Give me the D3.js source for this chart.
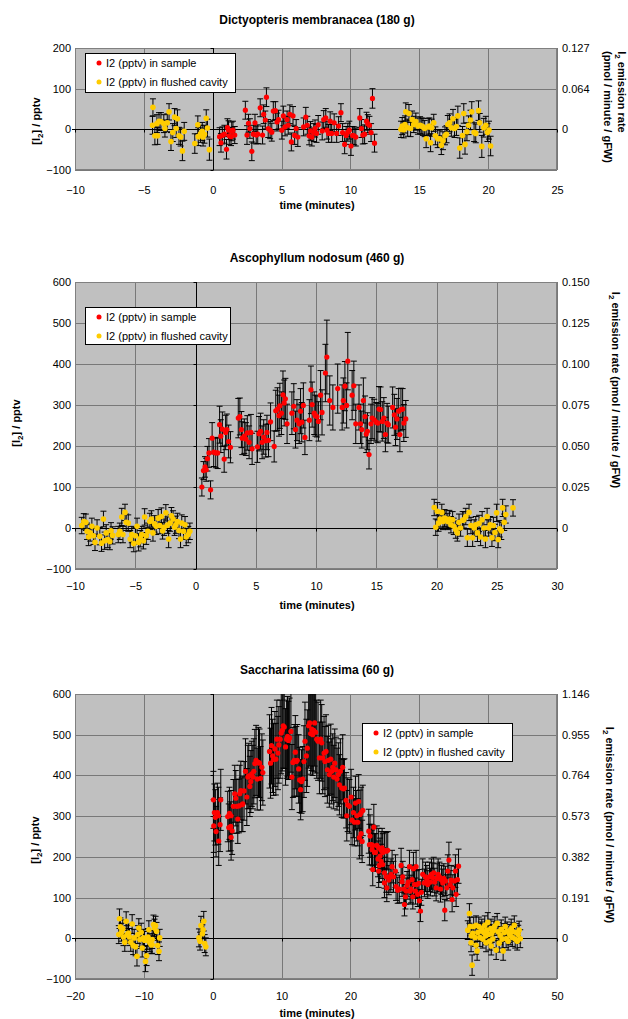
<!DOCTYPE html>
<html>
<head>
<meta charset="utf-8">
<script src="https://cdn.jsdelivr.net/npm/d3@7"></script>
<style>
  body { margin: 0; background: #fff; }
  text { font-family: "Liberation Sans", Arial, sans-serif; fill: #000; }
</style>
</head>
<body>
<svg id="chart" width="628" height="1019"></svg>
<script>
// ---- data: [time (min), I2 (pptv), error (pptv)] ----

const legendLabels = ["I2 (pptv) in sample", "I2 (pptv) in flushed cavity"];

// Dictyopteris membranacea
const dictTitle = "Dictyopteris membranacea (180 g)";
const dictXTicks = [-10, -5, 0, 5, 10, 15, 20, 25];
const dictYTicks = [-100, 0, 100, 200];
const dictRightAt = [0, 100, 200];
const dictRightLabels = ["0", "0.064", "0.127"];
const dictSample = [
  [0.5,-18,22],[0.6,-33,23],[0.7,-15,21],[0.85,-12,22],[1.0,-49,24],[1.07,4,22],[1.15,-2,23],[1.2,-16,21],
  [1.33,-18,22],[1.38,-5,23],[1.47,-2,22],[1.6,-14,21],[2.37,47,22],[2.49,-14,23],[2.6,15,22],[2.7,2,24],
  [2.84,-54,23],[2.95,-12,22],[3.07,16,21],[3.16,-14,22],[3.27,-12,23],[3.45,53,22],[3.62,-14,22],[3.7,37,23],
  [3.82,23,22],[3.9,79,23],[4.03,2,22],[4.17,-2,21],[4.29,-7,22],[4.4,45,23],[4.55,46,22],[4.67,18,22],
  [4.78,24,23],[5.02,-2,22],[5.13,33,24],[5.25,6,22],[5.4,24,21],[5.48,10,22],[5.6,37,23],[5.71,-31,22],
  [5.83,33,23],[5.95,-15,22],[6.06,2,22],[6.18,-19,23],[6.6,6,22],[6.76,30,24],[6.87,10,22],[7.0,-16,22],
  [7.1,-4,23],[7.2,-19,22],[7.34,-8,22],[7.43,2,21],[7.54,-10,22],[7.66,11,23],[7.95,-4,22],[8.06,24,22],
  [8.21,28,23],[8.3,-2,22],[8.41,-10,22],[8.53,20,23],[8.64,-10,22],[8.82,16,22],[9.0,-10,22],[9.14,8,23],
  [9.31,41,22],[9.43,-8,22],[9.58,-37,23],[9.69,-15,22],[9.81,-7,22],[9.92,-2,22],[10.04,-41,23],[10.16,-15,22],
  [10.27,-16,22],[10.39,-19,22],[10.68,28,23],[10.8,2,22],[10.9,-14,22],[11.03,-12,23],[11.17,20,22],[11.26,14,22],
  [11.38,10,22],[11.5,-8,22],[11.6,76,24],[11.75,-34,22]
];
const dictFlushed = [
  [-4.37,10,22],[-4.34,54,21],[-4.2,-16,22],[-4.0,-16,21],[-4.05,14,22],[-3.9,20,21],[-3.76,19,22],[-3.55,14,22],
  [-3.47,2,21],[-3.3,16,22],[-3.17,43,20],[-3.03,-30,22],[-2.9,-8,22],[-2.77,30,21],[-2.65,2,22],[-2.56,26,22],
  [-2.45,-16,21],[-2.33,-19,22],[-2.2,-53,24],[-2.07,-5,22],[-1.3,-35,24],[-1.08,11,22],[-1.05,-18,22],[-0.88,-11,21],
  [-0.76,-5,22],[-0.7,-19,22],[-0.6,-12,22],[-0.47,27,21],[-0.38,3,22],[-0.24,-50,26],
  [13.67,0,20],[13.76,8,21],[13.87,-1,20],[13.96,12,21],[14.02,43,22],[14.16,4,21],[14.25,39,22],[14.37,2,20],
  [14.48,24,21],[14.6,12,20],[14.75,19,21],[14.9,8,20],[15.06,10,21],[15.18,8,20],[15.27,6,21],[15.39,2,20],
  [15.5,-23,22],[15.65,6,21],[15.73,8,20],[15.82,-33,22],[15.9,4,21],[16.05,16,21],[16.17,-16,22],[16.34,-23,22],
  [16.49,-23,21],[16.6,-39,23],[16.72,-28,22],[16.87,-16,22],[16.98,-12,21],[17.07,12,22],[17.2,16,22],[17.33,4,21],
  [17.45,26,23],[17.56,2,22],[17.7,7,22],[17.8,33,24],[17.94,-46,25],[18.14,-15,22],[18.23,39,24],[18.32,-37,24],
  [18.46,-6,22],[18.58,10,23],[18.72,23,24],[18.81,43,25],[18.98,-7,23],[19.1,-10,23],[19.3,46,24],[19.39,16,23],
  [19.54,-42,27],[19.68,4,23],[19.83,10,22],[19.95,-8,22],[20.06,-2,22],[20.18,-41,24]
];

// Ascophyllum nodosum
const ascoTitle = "Ascophyllum nodosum (460 g)";
const ascoXTicks = [-10, -5, 0, 5, 10, 15, 20, 25, 30];
const ascoYTicks = [-100, 0, 100, 200, 300, 400, 500, 600];
const ascoRightAt = [0, 100, 200, 300, 400, 500, 600];
const ascoRightLabels = ["0", "0.025", "0.050", "0.075", "0.100", "0.125", "0.150"];
const ascoSample = [
  [0.53,100,22],[0.66,140,22],[0.79,149,25],[0.89,142,28],[0.99,169,30],[1.12,183,35],[1.25,93,22],[1.38,219,38],
  [1.51,185,35],[1.68,183,36],[1.84,183,38],[2.0,252,45],[2.1,224,40],[2.23,241,42],[2.38,168,32],[2.5,233,42],
  [2.6,240,38],[2.75,211,40],[2.9,197,38],[3.55,268,48],[3.68,272,45],[3.81,240,44],[3.88,219,40],[4.05,224,42],
  [4.18,217,40],[4.3,232,42],[4.45,209,40],[4.6,233,44],[4.7,193,38],[5.14,198,38],[5.27,230,42],[5.4,236,44],
  [5.53,209,40],[5.66,222,42],[5.83,213,40],[5.93,233,42],[6.06,214,40],[6.23,259,46],[6.53,199,38],[6.66,286,50],
  [6.8,290,52],[6.93,274,50],[7.0,298,55],[7.13,280,52],[7.26,325,58],[7.36,305,56],[7.46,315,50],[7.6,254,48],
  [8.0,280,52],[8.16,297,55],[8.3,240,45],[8.42,263,50],[8.6,254,48],[8.72,285,55],[8.82,258,48],[8.95,299,55],
  [9.08,221,42],[9.45,263,50],[9.58,337,58],[9.68,301,55],[9.85,280,52],[9.95,274,50],[10.08,272,50],[10.2,260,48],
  [10.38,324,60],[10.5,282,55],[10.78,378,70],[10.9,417,90],[11.14,311,60],[11.4,294,55],[11.8,340,60],[12.17,294,55],
  [12.27,311,55],[12.4,346,60],[12.54,299,55],[12.64,407,70],[13.0,324,60],[13.14,347,60],[13.3,254,48],[13.57,294,55],
  [13.7,254,48],[13.8,240,45],[13.93,311,55],[14.07,272,50],[14.17,229,45],[14.27,236,45],[14.4,179,35],[14.56,254,48],
  [14.66,268,50],[14.83,264,50],[15.0,258,48],[15.13,256,48],[15.23,290,55],[15.36,289,55],[15.5,260,48],[15.63,268,50],
  [15.76,228,42],[15.9,256,48],[16.0,252,45],[16.36,294,50],[16.5,276,50],[16.6,246,45],[16.72,266,50],[16.86,285,55],
  [16.96,228,42],[17.05,289,52],[17.19,290,50],[17.29,256,45],[17.45,266,45]
];
const ascoFlushed = [
  [-9.44,6,20],[-9.27,16,19],[-9.1,14,20],[-9.0,-8,20],[-8.87,-22,21],[-8.74,-12,20],[-8.6,4,20],[-8.47,-19,21],
  [-8.34,-35,20],[-8.17,0,20],[-7.94,-20,21],[-7.8,-37,20],[-7.64,22,19],[-7.54,-31,21],[-7.41,-12,20],[-7.28,-28,20],
  [-7.11,-33,20],[-7.01,-7,20],[-6.88,-18,21],[-6.41,-16,20],[-6.28,-8,20],[-6.12,27,21],[-6.02,-16,20],[-5.85,38,20],
  [-5.75,14,20],[-5.58,12,20],[-5.42,-27,21],[-5.29,-16,20],[-5.12,-38,20],[-4.99,-19,20],[-4.85,4,20],[-4.72,-35,21],
  [-4.59,-26,20],[-4.46,-16,20],[-4.32,-31,20],[-4.22,27,20],[-4.09,-19,21],[-3.96,-8,20],[-3.79,16,20],[-3.66,22,20],
  [-3.53,-12,20],[-3.39,10,20],[-3.26,4,20],[-3.1,24,21],[-2.96,6,20],[-2.83,28,21],[-2.73,-7,20],[-2.6,2,20],
  [-2.46,37,20],[-2.33,7,20],[-2.23,-27,21],[-2.1,12,20],[-2.0,30,20],[-1.86,22,20],[-1.73,2,20],[-1.63,8,21],
  [-1.5,16,20],[-1.37,-6,20],[-1.24,-27,21],[-1.14,12,20],[-1.0,-8,20],[-0.87,8,20],[-0.77,-22,21],[-0.6,-16,20],
  [-0.47,-8,20],
  [19.81,50,20],[19.94,2,20],[20.07,41,21],[20.17,12,20],[20.3,22,20],[20.44,38,20],[20.54,16,20],[20.67,24,21],
  [20.8,22,20],[20.94,16,20],[21.07,22,21],[21.2,8,20],[21.34,20,20],[21.43,4,20],[21.6,-4,21],[21.73,-12,20],
  [21.87,14,20],[22.0,0,20],[22.17,19,21],[22.27,20,20],[22.43,28,20],[22.56,-24,21],[22.7,38,20],[22.86,6,20],
  [23.0,-24,21],[23.13,0,20],[23.26,8,20],[23.4,-12,21],[23.53,11,20],[23.66,-22,21],[23.79,20,20],[23.93,0,20],
  [24.06,-27,21],[24.2,28,20],[24.33,0,20],[24.46,8,20],[24.6,-24,21],[24.72,6,20],[24.85,-11,20],[24.99,37,21],
  [25.12,-28,20],[25.25,-2,20],[25.38,-7,21],[25.49,49,21],[25.62,14,20],[25.75,33,21],[26.35,49,20]
];

// Saccharina latissima
const saccTitle = "Saccharina latissima (60 g)";
const saccXTicks = [-20, -10, 0, 10, 20, 30, 40, 50];
const saccYTicks = [-100, 0, 100, 200, 300, 400, 500, 600];
const saccRightAt = [0, 100, 200, 300, 400, 500, 600];
const saccRightLabels = ["0", "0.191", "0.382", "0.573", "0.764", "0.955", "1.146"];
const saccSample = [
  [0.1,340,70],[0.15,276,65],[0.24,309,70],[0.39,297,68],[0.49,262,62],[0.68,309,72],[0.83,301,70],[0.87,239,60],
  [1.07,279,66],[1.17,340,75],[2.18,299,62],[2.33,272,58],[2.43,307,64],[2.62,275,60],[2.67,248,56],[2.67,301,62],
  [2.82,264,58],[3.0,324,66],[3.2,355,70],[3.35,344,68],[3.5,324,66],[3.64,293,60],[3.8,325,66],[3.93,355,70],
  [4.08,363,72],[4.22,328,66],[4.37,330,68],[4.56,362,72],[4.76,410,80],[4.95,347,70],[5.1,396,78],[5.24,399,80],
  [5.39,373,74],[5.53,385,76],[5.68,404,80],[5.83,396,78],[5.97,410,80],[6.12,429,84],[6.3,437,86],[6.46,391,76],
  [6.65,432,86],[6.8,430,84],[6.94,393,78],[7.14,420,82],[7.28,407,80],[8.25,459,90],[8.4,430,86],[8.54,473,94],
  [8.7,448,90],[8.83,439,88],[9.03,465,92],[9.17,440,88],[9.32,489,96],[9.47,455,90],[9.6,475,94],[9.8,489,96],
  [9.95,504,100],[10.1,511,100],[10.24,522,104],[10.39,519,102],[10.58,470,94],[10.73,489,96],[10.87,496,98],[11.0,486,96],
  [11.17,492,98],[11.36,508,100],[11.5,396,80],[11.65,432,86],[11.84,437,88],[12.0,457,90],[12.14,434,86],[12.28,437,88],
  [12.48,416,84],[12.62,389,80],[12.77,365,74],[12.9,385,78],[13.06,391,80],[13.25,434,88],[13.4,484,96],[13.6,448,90],
  [13.74,467,94],[13.93,522,104],[14.08,529,106],[14.22,503,100],[14.37,514,102],[14.51,500,100],[14.66,511,102],[14.8,529,106],
  [14.95,506,100],[15.1,489,96],[15.3,484,96],[15.5,443,88],[15.68,489,96],[15.83,480,94],[15.97,443,88],[16.17,455,90],
  [16.3,434,86],[16.46,459,90],[16.65,414,82],[16.8,437,86],[16.94,402,80],[17.14,440,86],[17.28,410,80],[17.43,420,82],
  [17.57,396,78],[17.72,430,84],[17.9,414,80],[18.06,391,76],[18.25,402,78],[18.4,377,74],[18.54,410,80],[18.74,369,72],
  [18.88,420,80],[19.0,367,72],[19.13,369,72],[19.37,339,68],[19.47,301,62],[19.6,328,66],[19.85,324,66],[20.1,347,68],
  [20.24,290,60],[20.44,309,62],[20.58,285,58],[20.73,332,66],[20.92,301,62],[21.07,285,58],[21.2,336,66],[21.3,247,52],
  [21.4,304,60],[21.55,309,62],[21.55,257,54],[21.7,238,52],[21.8,314,62],[22.66,263,54],[22.76,230,50],[22.85,251,52],
  [23.05,230,50],[23.15,218,48],[23.24,228,50],[23.24,169,40],[23.4,273,56],[23.5,211,46],[23.63,211,46],[23.83,228,48],
  [24.0,195,44],[24.1,222,48],[24.1,165,40],[24.2,179,42],[24.3,202,44],[24.45,216,46],[24.45,189,42],[24.6,222,48],
  [24.7,211,46],[24.7,181,42],[24.94,216,46],[24.94,161,38],[24.94,136,36],[25.2,214,46],[25.2,151,38],[25.28,124,34],
  [25.42,216,46],[25.57,143,36],[25.76,151,38],[25.9,157,38],[26.05,176,40],[26.25,151,38],[26.54,165,40],[26.63,127,34],
  [26.87,118,32],[27.1,121,34],[27.36,179,42],[27.5,139,36],[27.6,151,38],[27.75,121,34],[27.85,83,28],[28.0,102,30],
  [28.1,116,32],[28.23,130,34],[28.38,138,36],[28.57,176,40],[28.67,116,32],[28.8,121,34],[28.96,144,36],[29.06,102,30],
  [29.15,171,40],[29.3,132,34],[29.44,116,32],[29.54,176,40],[29.64,132,34],[29.78,108,30],[29.93,135,34],[30.02,92,28],
  [30.17,67,26],[30.3,113,32],[30.5,157,38],[30.75,136,34],[30.9,151,36],[31.1,143,36],[31.23,132,34],[31.48,151,36],
  [31.62,138,34],[31.77,157,38],[31.96,149,36],[32.1,161,38],[32.25,138,34],[32.45,124,32],[32.6,147,36],[32.74,157,38],
  [32.93,151,36],[33.08,121,32],[33.22,143,36],[33.41,136,34],[33.56,147,36],[33.7,69,26],[33.8,141,36],[34.0,124,32],
  [34.14,165,40],[34.3,192,44],[34.48,132,34],[34.62,143,36],[34.77,95,30],[34.87,124,32],[35.1,141,36],[35.25,165,40],
  [35.35,108,30],[35.54,144,36],[35.7,177,42]
];
const saccFlushed = [
  [-13.64,9,22],[-13.54,48,24],[-13.4,28,22],[-13.25,15,22],[-13.06,23,22],[-12.96,3,21],[-12.77,-10,22],[-12.57,42,23],
  [-12.43,9,22],[-12.23,13,22],[-12.09,3,21],[-11.9,-10,22],[-11.7,35,23],[-11.55,-18,22],[-11.4,1,21],[-11.2,-21,22],
  [-11.0,-44,24],[-10.87,9,22],[-10.73,25,23],[-10.58,-3,22],[-10.39,15,22],[-10.24,-24,22],[-10.05,1,21],[-9.9,-5,22],
  [-9.76,-57,25],[-9.6,-43,24],[-9.42,-5,22],[-9.4,3,21],[-9.27,21,22],[-9.13,-11,22],[-8.93,-16,22],[-8.8,-16,21],
  [-8.79,-3,22],[-8.6,34,23],[-8.45,25,22],[-8.3,31,23],[-8.16,17,22],[-8.0,-18,22],[-7.8,-32,23],[-7.7,1,21],
  [-2.0,1,22],[-1.84,-7,22],[-1.7,31,23],[-1.5,11,22],[-1.4,21,22],[-1.3,42,24],[-1.17,-13,22],[-1.0,-21,22],
  [37.04,20,23],[37.28,61,24],[37.38,29,23],[37.52,-11,22],[37.57,6,22],[37.67,-66,25],[37.77,12,22],[37.9,29,23],
  [38.1,2,22],[38.25,32,23],[38.25,-17,22],[38.4,-31,23],[38.5,14,22],[38.64,29,23],[38.8,2,22],[38.93,18,22],
  [39.08,24,23],[39.22,-2,22],[39.37,14,22],[39.51,32,23],[39.66,6,22],[39.7,-11,22],[39.8,20,22],[39.95,39,24],
  [40.1,10,22],[40.24,-7,22],[40.4,24,23],[40.45,-19,22],[40.53,12,22],[40.68,-1,22],[40.83,20,22],[40.97,30,23],
  [41.17,-29,23],[41.31,37,24],[41.46,16,22],[41.6,-12,22],[41.75,7,22],[41.9,22,23],[42.04,-2,22],[42.18,-31,23],
  [42.33,14,22],[42.48,29,23],[42.62,-1,22],[42.77,18,22],[42.9,-7,22],[43.06,12,22],[43.2,6,22],[43.35,24,23],
  [43.5,2,22],[43.64,16,22],[43.8,32,23],[43.93,-2,22],[44.08,14,22],[44.22,-7,22],[44.37,10,22],[44.5,20,22],
  [44.66,-1,22]
];

// ---- layout ----
const plotLeft = 75, plotRight = 557;

const panels = [
  { title: dictTitle, titleY: 24, top: 48, bottom: 170, xDomain: [-10, 25], xTicks: dictXTicks,
    yDomain: [-100, 200], yTicks: dictYTicks, rightAt: dictRightAt, rightLabels: dictRightLabels,
    sample: dictSample, flushed: dictFlushed, xPad: 16, xTitleY: 209,
    leftTitle: { x: 36, y: 121 }, rightTitle: [{ x: 622, y: 92, line: 1 }, { x: 608, y: 107, line: 2 }],
    legend: { x: 85, y: 53, w: 150, h: 39 } },
  { title: ascoTitle, titleY: 262, top: 282, bottom: 569, xDomain: [-10, 30], xTicks: ascoXTicks,
    yDomain: [-100, 600], yTicks: ascoYTicks, rightAt: ascoRightAt, rightLabels: ascoRightLabels,
    sample: ascoSample, flushed: ascoFlushed, xPad: 13, xTitleY: 609,
    leftTitle: { x: 16, y: 423 }, rightTitle: [{ x: 616, y: 390, line: 0 }],
    legend: { x: 85, y: 307, w: 145, h: 37 } },
  { title: saccTitle, titleY: 674, top: 694, bottom: 979, xDomain: [-20, 50], xTicks: saccXTicks,
    yDomain: [-100, 600], yTicks: saccYTicks, rightAt: saccRightAt, rightLabels: saccRightLabels,
    sample: saccSample, flushed: saccFlushed, xPad: 13, xTitleY: 1017,
    leftTitle: { x: 35, y: 840 }, rightTitle: [{ x: 610, y: 825, line: 0 }],
    legend: { x: 362, y: 723, w: 150, h: 38 } }
];

const svg = d3.select("#chart");
const crisp = v => Math.round(v) + 0.5;

// text with a subscript "2" after the I
function iodineText(sel, before, after) {
  sel.append("tspan").text(before);
  sel.append("tspan").attr("font-size", 8).attr("dy", 3).text("2");
  sel.append("tspan").attr("dy", -3).text(after);
}

panels.forEach((p, k) => {
  const x = d3.scaleLinear().domain(p.xDomain).range([plotLeft, plotRight]);
  const y = d3.scaleLinear().domain(p.yDomain).range([p.bottom, p.top]);
  const g = svg.append("g");

  g.append("defs").append("clipPath").attr("id", "clip" + k)
    .append("rect").attr("x", plotLeft).attr("y", p.top)
    .attr("width", plotRight - plotLeft).attr("height", p.bottom - p.top);

  // title
  g.append("text").attr("x", 317).attr("y", p.titleY)
    .attr("text-anchor", "middle").attr("font-size", 12).attr("font-weight", "bold")
    .text(p.title);

  // plot area
  g.append("rect").attr("x", plotLeft).attr("y", p.top)
    .attr("width", plotRight - plotLeft).attr("height", p.bottom - p.top)
    .attr("fill", "#c0c0c0");

  // gridlines
  g.append("g").selectAll("line")
    .data(p.yTicks.filter(d => d !== 0))
    .join("line")
      .attr("x1", plotLeft).attr("x2", plotRight)
      .attr("y1", d => crisp(y(d))).attr("y2", d => crisp(y(d)))
      .attr("stroke", "#787878");
  g.append("g").selectAll("line")
    .data(p.xTicks.filter(d => d !== 0))
    .join("line")
      .attr("x1", d => crisp(x(d))).attr("x2", d => crisp(x(d)))
      .attr("y1", p.top).attr("y2", p.bottom)
      .attr("stroke", "#787878");

  // plot border
  g.append("rect").attr("x", plotLeft + 0.5).attr("y", p.top + 0.5)
    .attr("width", plotRight - plotLeft - 1).attr("height", p.bottom - p.top - 1)
    .attr("fill", "none").attr("stroke", "#808080");

  // zero lines with small tick marks
  g.append("line").attr("x1", plotLeft - 3).attr("x2", plotRight)
    .attr("y1", crisp(y(0))).attr("y2", crisp(y(0))).attr("stroke", "#000");
  g.append("line").attr("x1", crisp(x(0))).attr("x2", crisp(x(0)))
    .attr("y1", p.top).attr("y2", p.bottom).attr("stroke", "#000");
  g.append("g").selectAll("line").data(p.xTicks)
    .join("line")
      .attr("x1", d => crisp(x(d))).attr("x2", d => crisp(x(d)))
      .attr("y1", crisp(y(0))).attr("y2", crisp(y(0)) + 3)
      .attr("stroke", "#000");
  g.append("g").selectAll("line").data(p.yTicks)
    .join("line")
      .attr("x1", crisp(x(0)) - 3).attr("x2", crisp(x(0)))
      .attr("y1", d => crisp(y(d))).attr("y2", d => crisp(y(d)))
      .attr("stroke", "#000");

  // axes labels
  const left = g.append("g").attr("transform", `translate(${plotLeft},0)`)
    .call(d3.axisLeft(y).tickValues(p.yTicks).tickSize(0).tickPadding(4));
  const right = g.append("g").attr("transform", `translate(${plotRight},0)`)
    .call(d3.axisRight(y).tickValues(p.rightAt).tickSize(0).tickPadding(5)
      .tickFormat((d, i) => p.rightLabels[i]));
  const bottom = g.append("g").attr("transform", `translate(0,${p.bottom})`)
    .call(d3.axisBottom(x).tickValues(p.xTicks).tickSize(0).tickPadding(p.xPad));
  [left, right, bottom].forEach(a => {
    a.select(".domain").remove();
    a.attr("font-family", "Liberation Sans, Arial, sans-serif").attr("font-size", 11);
    a.selectAll("text").attr("fill", "#000");
  });

  // axis titles
  g.append("text").attr("x", 317).attr("y", p.xTitleY)
    .attr("text-anchor", "middle").attr("font-size", 11).attr("font-weight", "bold")
    .text("time (minutes)");

  const lt = g.append("text")
    .attr("transform", `translate(${p.leftTitle.x},${p.leftTitle.y}) rotate(-90)`)
    .attr("text-anchor", "middle").attr("dy", 4)
    .attr("font-size", 11).attr("font-weight", "bold");
  iodineText(lt, "[I", "] / pptv");

  p.rightTitle.forEach(rt => {
    const t = g.append("text")
      .attr("transform", `translate(${rt.x},${rt.y}) rotate(90)`)
      .attr("text-anchor", "middle").attr("dy", 4)
      .attr("font-size", 11).attr("font-weight", "bold");
    if (rt.line === 0) iodineText(t, "I", " emission rate (pmol / minute / gFW)");
    else if (rt.line === 1) iodineText(t, "I", " emission rate");
    else t.text("(pmol / minute / gFW)");
  });

  // series: error bars then markers
  const series = [
    { data: p.sample, color: "#ff0000", r: 2.6 },
    { data: p.flushed, color: "#ffcc00", r: 2.8 }
  ];
  series.forEach(s => {
    const eb = g.append("g").attr("clip-path", `url(#clip${k})`)
      .attr("stroke", "#000").attr("stroke-width", 1);
    eb.selectAll("line.bar").data(s.data).join("line").attr("class", "bar")
      .attr("x1", d => x(d[0])).attr("x2", d => x(d[0]))
      .attr("y1", d => y(d[1] - d[2])).attr("y2", d => y(d[1] + d[2]));
    eb.selectAll("line.capTop").data(s.data).join("line").attr("class", "capTop")
      .attr("x1", d => x(d[0]) - 3).attr("x2", d => x(d[0]) + 3)
      .attr("y1", d => y(d[1] + d[2])).attr("y2", d => y(d[1] + d[2]));
    eb.selectAll("line.capBot").data(s.data).join("line").attr("class", "capBot")
      .attr("x1", d => x(d[0]) - 3).attr("x2", d => x(d[0]) + 3)
      .attr("y1", d => y(d[1] - d[2])).attr("y2", d => y(d[1] - d[2]));

    g.append("g").selectAll("circle").data(s.data).join("circle")
      .attr("cx", d => x(d[0])).attr("cy", d => y(d[1]))
      .attr("r", s.r).attr("fill", s.color);
  });

  // legend
  const lg = g.append("g").attr("transform", `translate(${p.legend.x},${p.legend.y})`);
  lg.append("rect").attr("x", 0.5).attr("y", 0.5)
    .attr("width", p.legend.w).attr("height", p.legend.h)
    .attr("fill", "#fff").attr("stroke", "#000");
  [["#ff0000", legendLabels[0]], ["#ffcc00", legendLabels[1]]].forEach((e, i) => {
    const cy = 10 + i * 19;
    lg.append("circle").attr("cx", 14).attr("cy", cy).attr("r", 2.5).attr("fill", e[0]);
    lg.append("text").attr("x", 21).attr("y", cy + 4).attr("font-size", 11).text(e[1]);
  });
});
</script>
</body>
</html>
